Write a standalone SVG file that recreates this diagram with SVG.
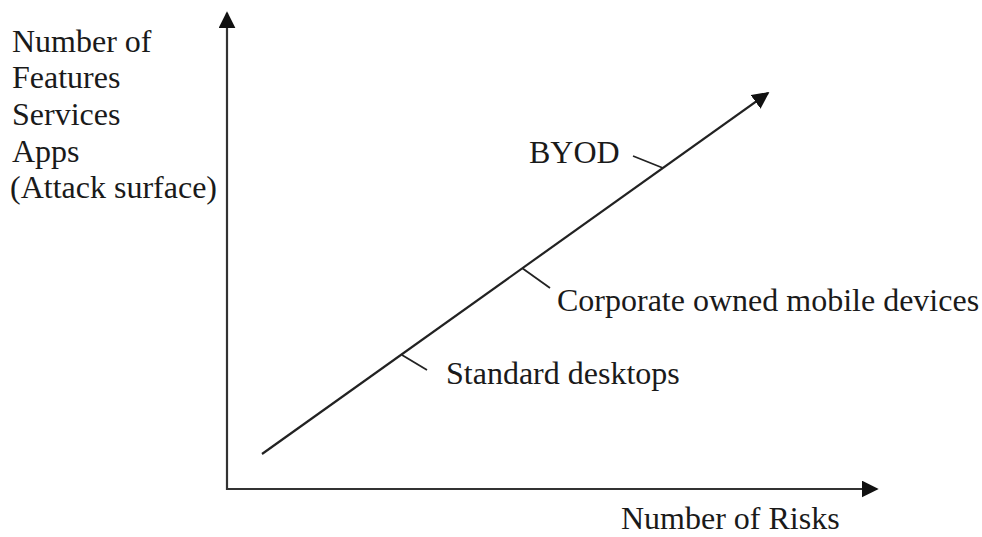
<svg xmlns="http://www.w3.org/2000/svg" width="982" height="537" viewBox="0 0 982 537">
  <style>
    .lbl { font-family: "Liberation Serif", "Times New Roman", serif; font-size: 32px; fill: #1a1a1a; }
    .axis { stroke: #333; stroke-width: 2.2; fill: none; }
    .line { stroke: #222; stroke-width: 2.2; fill: none; }
    .tick { stroke: #222; stroke-width: 1.8; fill: none; }
  </style>
  <defs>
    <marker id="arrow" viewBox="0 0 10 10" refX="9" refY="5" markerWidth="8" markerHeight="8" markerUnits="userSpaceOnUse" orient="auto">
      <path d="M0,0 L10,5 L0,10 z" fill="#111"/>
    </marker>
    <marker id="arrowBig" viewBox="0 0 10 10" refX="9" refY="5" markerWidth="17" markerHeight="17" markerUnits="userSpaceOnUse" orient="auto">
      <path d="M0,0 L10,5 L0,10 z" fill="#111"/>
    </marker>
  </defs>

  <rect width="982" height="537" fill="#fff"/>

  <g id="connectors">
    <!-- axes -->
    <line class="axis" x1="227" y1="490" x2="227" y2="13" marker-end="url(#arrowBig)"/>
    <line class="axis" x1="226" y1="489" x2="877" y2="489" marker-end="url(#arrowBig)"/>
    <!-- trend line -->
    <line class="line" x1="262" y1="454" x2="768" y2="93" marker-end="url(#arrowBig)"/>
    <!-- label ticks -->
    <line class="tick" x1="633" y1="156" x2="663" y2="168"/>
    <line class="tick" x1="522" y1="268" x2="550" y2="288"/>
    <line class="tick" x1="402" y1="355" x2="427" y2="370"/>
  </g>

  <g id="y-axis-label">
    <text class="lbl" x="12" y="52">Number of</text>
    <text class="lbl" x="12" y="88">Features</text>
    <text class="lbl" x="12" y="125">Services</text>
    <text class="lbl" x="12" y="162">Apps</text>
    <text class="lbl" x="10" y="198">(Attack surface)</text>
  </g>

  <g id="byod">
    <text class="lbl" x="529" y="163">BYOD</text>
  </g>

  <g id="corporate">
    <text class="lbl" x="557" y="311">Corporate owned mobile devices</text>
  </g>

  <g id="standard">
    <text class="lbl" x="446" y="384">Standard desktops</text>
  </g>

  <g id="x-axis-label">
    <text class="lbl" x="621" y="529">Number of Risks</text>
  </g>
</svg>
